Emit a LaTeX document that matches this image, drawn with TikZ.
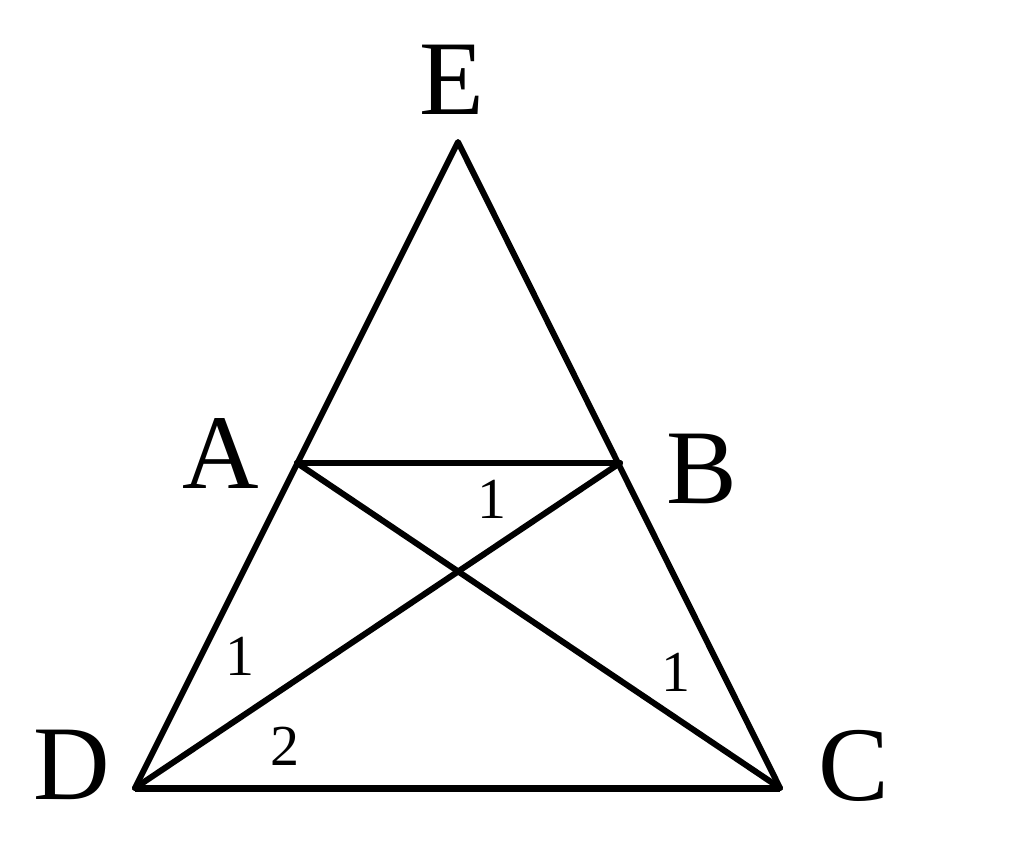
\documentclass[tikz,border=0pt]{standalone}
\usepackage{fontspec}
\setmainfont{Liberation Serif}
\begin{document}
\begin{tikzpicture}[x=1pt,y=-1pt,
  seg/.style={line width=6pt,line cap=round,line join=round},
  big/.style={inner sep=0pt,font=\fontsize{106}{106}\selectfont},
  small/.style={inner sep=0pt,font=\fontsize{58}{58}\selectfont}]
\useasboundingbox (0,0) rectangle (1024,843);
\coordinate (E) at (458,142);
\coordinate (A) at (297,463);
\coordinate (B) at (620,463);
\coordinate (D) at (135,788);
\coordinate (C) at (780,788);
\draw[seg] (E) -- (D) -- (C) -- cycle;
\draw[seg] (A) -- (B);
\draw[seg] (A) -- (C);
\draw[seg] (B) -- (D);
\draw[line width=7pt] (D) -- (C);
\node[big] (lE) at (452,80) {E};
\node[big] (lA) at (221,454) {A};
\node[big] (lB) at (702,469) {B};
\node[big] (lD) at (72,765) {D};
\node[big] (lC) at (854,766) {C};
\node[small] (n1) at (492,499) {1};
\node[small] (n2) at (240,656) {1};
\node[small] (n3) at (285,746) {2};
\node[small] (n4) at (676,672) {1};
\end{tikzpicture}
\end{document}
